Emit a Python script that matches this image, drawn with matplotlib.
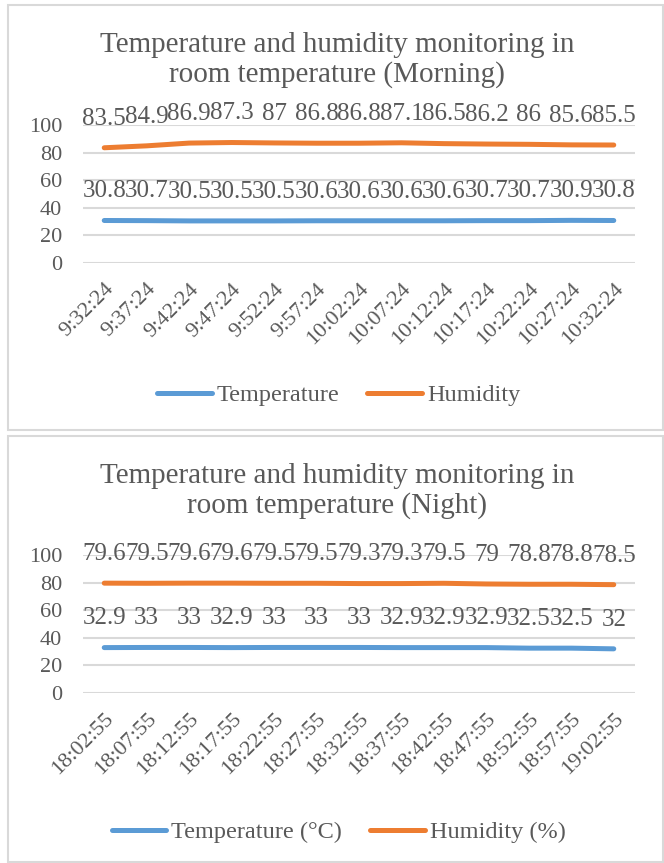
import matplotlib.pyplot as plt
from matplotlib.patches import Rectangle

plt.rcParams['font.family'] = ['Liberation Serif', 'DejaVu Serif']

# Morning readings
morning_times = ['9:32:24', '9:37:24', '9:42:24', '9:47:24', '9:52:24', '9:57:24', '10:02:24',
                 '10:07:24', '10:12:24', '10:17:24', '10:22:24', '10:27:24', '10:32:24']
morning_temp = [30.8, 30.7, 30.5, 30.5, 30.5, 30.6, 30.6, 30.6, 30.6, 30.7, 30.7, 30.9, 30.8]
morning_hum = [83.5, 84.9, 86.9, 87.3, 87, 86.8, 86.8, 87.1, 86.5, 86.2, 86, 85.6, 85.5]

# Night readings
night_times = ['18:02:55', '18:07:55', '18:12:55', '18:17:55', '18:22:55', '18:27:55', '18:32:55',
               '18:37:55', '18:42:55', '18:47:55', '18:52:55', '18:57:55', '19:02:55']
night_temp = [32.9, 33, 33, 32.9, 33, 33, 33, 32.9, 32.9, 32.9, 32.5, 32.5, 32]
night_hum = [79.6, 79.5, 79.6, 79.6, 79.5, 79.5, 79.3, 79.3, 79.5, 79, 78.8, 78.8, 78.5]

titles = ['Temperature and humidity monitoring in\nroom temperature (Morning)',
          'Temperature and humidity monitoring in\nroom temperature (Night)']

blue = '#5B9BD5'
orange = '#ED7D31'
txt = '#595959'
grid = '#D9D9D9'

W, H = 664, 863
fig = plt.figure(figsize=(W / 100, H / 100), dpi=100)


def px(x0, y0, x1, y1):
    # pixel box (top-left origin) -> figure fraction rect
    return [x0 / W, 1 - y1 / H, (x1 - x0) / W, (y1 - y0) / H]


def panel(box, axbox, title, title_y, legend_y, times, temp, hum, labels):
    fig.patches.append(Rectangle((box[0], box[1]), box[2], box[3], transform=fig.transFigure,
                                 fill=False, edgecolor=grid, lw=1.5))
    ax = fig.add_axes(axbox)
    x = list(range(len(times)))
    ax.plot(x, temp, color=blue, lw=3.6, solid_capstyle='round', label=labels[0])
    ax.plot(x, hum, color=orange, lw=3.6, solid_capstyle='round', label=labels[1])
    for series in (temp, hum):
        for xi, v in zip(x, series):
            ax.annotate(f'{v:g}', (xi, v), xytext=(0, 21), textcoords='offset points',
                        ha='center', va='center', fontsize=18, color=txt)
    ax.set_xlim(-0.5, len(times) - 0.5)
    ax.set_ylim(0, 100)
    ax.set_yticks([0, 20, 40, 60, 80, 100])
    ax.set_xticks(x)
    ax.set_xticklabels(times, rotation=45, ha='right', va='top', rotation_mode='anchor')
    ax.tick_params(axis='both', length=0, labelsize=16, labelcolor=txt)
    ax.tick_params(axis='y', pad=15)
    ax.tick_params(axis='x', pad=12)
    ax.grid(axis='y', color=grid, lw=1.5)
    ax.set_axisbelow(True)
    for s in ax.spines.values():
        s.set_visible(False)
    fig.text(337 / W, 1 - title_y / H, title, ha='center', va='center',
             fontsize=21, color=txt, linespacing=1.15)
    ax.legend(loc='center', bbox_to_anchor=(0.51, 1 - legend_y / H), bbox_transform=fig.transFigure,
              ncol=2, frameon=False, fontsize=17.5, handlelength=2.25, handletextpad=0.2,
              columnspacing=1.15, labelcolor=txt)
    return ax


panel(px(8, 5, 663, 430), px(83, 125, 635, 263), titles[0], 60, 395,
      morning_times, morning_temp, morning_hum, ['Temperature', 'Humidity'])
panel(px(8, 436, 663, 862), px(83, 555, 635, 693), titles[1], 491, 832,
      night_times, night_temp, night_hum, ['Temperature (°C)', 'Humidity (%)'])

fig.savefig('out.png', dpi=100)
